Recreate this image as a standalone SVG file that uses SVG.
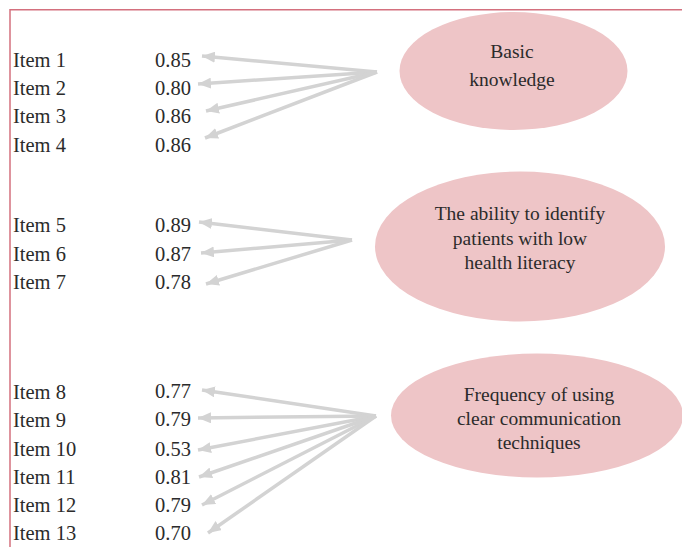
<svg xmlns="http://www.w3.org/2000/svg" width="682" height="547" viewBox="0 0 682 547">
  <defs>
    <style>
      .frame { fill: none; stroke: #d4707e; stroke-width: 1.5; }
      .factor { fill: #eec5c7; }
      .lbl { font-family: "Liberation Serif", "Times New Roman", serif; font-size: 20.5px; fill: #2b2b2b; }
      .ftxt { font-family: "Liberation Serif", "Times New Roman", serif; font-size: 19.5px; fill: #2b2b2b; text-anchor: middle; }
      .load { fill: none; stroke: #d3d3d3; stroke-width: 3.5; marker-end: url(#head); }
    </style>
    <marker id="head" markerUnits="userSpaceOnUse" markerWidth="14" markerHeight="11" refX="13" refY="5.5" orient="auto">
      <path d="M0,0 L13,5.5 L0,11 Z" fill="#d3d3d3"/>
    </marker>
  </defs>

  <rect width="682" height="547" fill="#ffffff"/>

  <!-- outer frame: top and left rules -->
  <path class="frame" d="M10,547 L10,9.75 L682,9.75"/>

  <!-- loading arrows from each factor to its items -->
  <g id="connectors">
    <line class="load" x1="377" y1="72" x2="202" y2="56"/>
    <line class="load" x1="377" y1="72" x2="198" y2="84"/>
    <line class="load" x1="377" y1="72" x2="206" y2="111"/>
    <line class="load" x1="377" y1="72" x2="205" y2="138"/>

    <line class="load" x1="352" y1="240" x2="199" y2="222"/>
    <line class="load" x1="352" y1="240" x2="201" y2="253"/>
    <line class="load" x1="352" y1="240" x2="206" y2="284"/>

    <line class="load" x1="376" y1="416" x2="202" y2="390"/>
    <line class="load" x1="376" y1="416" x2="198" y2="418"/>
    <line class="load" x1="376" y1="416" x2="198" y2="450"/>
    <line class="load" x1="376" y1="416" x2="199" y2="477"/>
    <line class="load" x1="376" y1="416" x2="202" y2="505"/>
    <line class="load" x1="376" y1="416" x2="208" y2="533"/>
  </g>

  <!-- factors -->
  <g id="factor-basic-knowledge">
    <ellipse class="factor" cx="513.5" cy="71" rx="114" ry="59"/>
    <text class="ftxt" x="512" y="58">Basic</text>
    <text class="ftxt" x="512" y="86">knowledge</text>
  </g>

  <g id="factor-identify-patients">
    <ellipse class="factor" cx="520" cy="246.5" rx="145" ry="75"/>
    <text class="ftxt" x="520" y="220">The ability to identify</text>
    <text class="ftxt" x="520" y="245">patients with low</text>
    <text class="ftxt" x="520" y="269">health literacy</text>
  </g>

  <g id="factor-clear-communication">
    <ellipse class="factor" cx="537" cy="415.5" rx="146" ry="62"/>
    <text class="ftxt" x="539" y="401">Frequency of using</text>
    <text class="ftxt" x="539" y="425">clear communication</text>
    <text class="ftxt" x="539" y="449">techniques</text>
  </g>

  <!-- items with loadings -->
  <g id="item-1"><text class="lbl" x="13" y="67">Item 1</text><text class="lbl" x="155" y="67">0.85</text></g>
  <g id="item-2"><text class="lbl" x="13" y="95">Item 2</text><text class="lbl" x="155" y="95">0.80</text></g>
  <g id="item-3"><text class="lbl" x="13" y="123">Item 3</text><text class="lbl" x="155" y="123">0.86</text></g>
  <g id="item-4"><text class="lbl" x="13" y="152">Item 4</text><text class="lbl" x="155" y="152">0.86</text></g>

  <g id="item-5"><text class="lbl" x="13" y="232">Item 5</text><text class="lbl" x="155" y="232">0.89</text></g>
  <g id="item-6"><text class="lbl" x="13" y="261">Item 6</text><text class="lbl" x="155" y="261">0.87</text></g>
  <g id="item-7"><text class="lbl" x="13" y="289">Item 7</text><text class="lbl" x="155" y="289">0.78</text></g>

  <g id="item-8"><text class="lbl" x="13" y="399">Item 8</text><text class="lbl" x="155" y="398">0.77</text></g>
  <g id="item-9"><text class="lbl" x="13" y="427">Item 9</text><text class="lbl" x="155" y="426">0.79</text></g>
  <g id="item-10"><text class="lbl" x="13" y="456">Item 10</text><text class="lbl" x="155" y="456">0.53</text></g>
  <g id="item-11"><text class="lbl" x="13" y="484">Item 11</text><text class="lbl" x="155" y="484">0.81</text></g>
  <g id="item-12"><text class="lbl" x="13" y="512">Item 12</text><text class="lbl" x="155" y="512">0.79</text></g>
  <g id="item-13"><text class="lbl" x="13" y="540">Item 13</text><text class="lbl" x="155" y="540">0.70</text></g>
</svg>
